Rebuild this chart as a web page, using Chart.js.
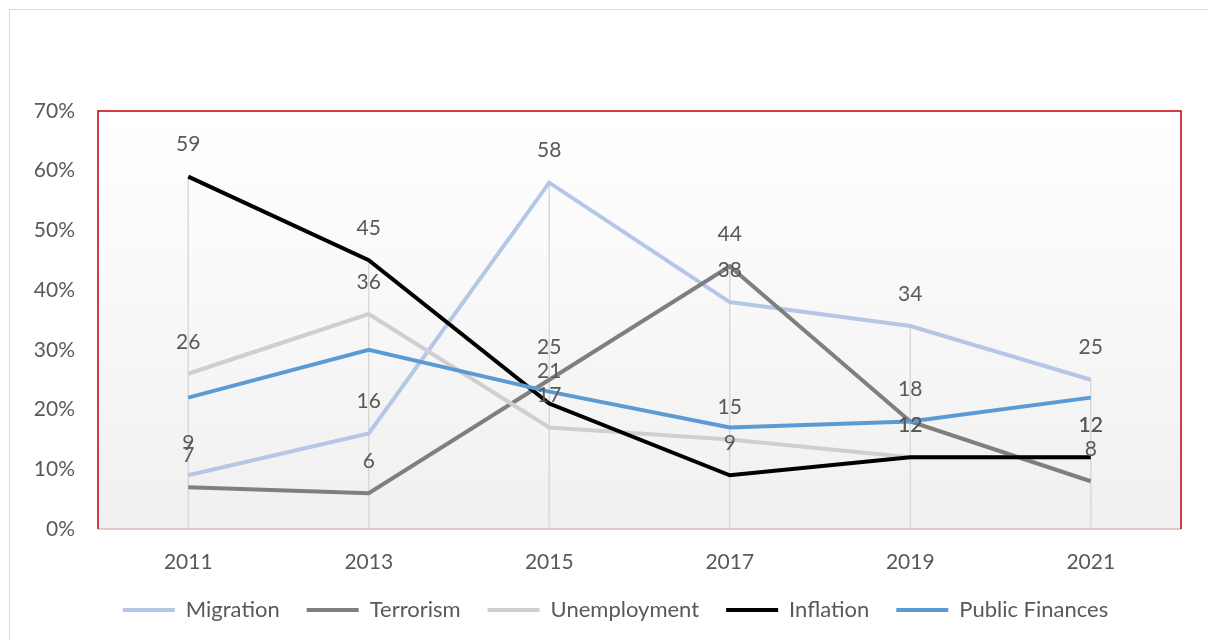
<!DOCTYPE html>
<html>
<head>
<meta charset="utf-8">
<script src="https://cdn.jsdelivr.net/npm/chart.js@4/dist/chart.umd.min.js"></script>
<style>
html, body { margin: 0; padding: 0; background: #fff; }
#wrap { position: relative; width: 1208px; height: 640px; overflow: hidden; }
#frame { position: absolute; left: 9px; top: 9px; width: 1300px; height: 700px; border: 1px solid #d9d9d9; }
canvas { position: absolute; left: 0; top: 0; }
</style>
</head>
<body>
<div id="wrap">
  <div id="frame"></div>
  <canvas id="chart" width="1208" height="640"></canvas>
</div>
<script>
// data (percent)
const years = ['2011', '2013', '2015', '2017', '2019', '2021'];
const migration = [9, 16, 58, 38, 34, 25];
const terrorism = [7, 6, 25, 44, 18, 8];
const unemployment = [26, 36, 17, 15, 12, 12];
const inflation = [59, 45, 21, 9, 12, 12];
const publicFinances = [22, 30, 23, 17, 18, 22];
const yMax = 70;
const yStep = 10;

const font = 'Lato, "Noto Sans", sans-serif';
const textCol = '#595959';

// plot area look: gradient fill, drop lines, red frame, value labels
const plotDeco = {
  id: 'plotDeco',
  beforeDatasetsDraw(chart) {
    const { ctx, chartArea: a, scales } = chart;
    ctx.save();
    let g = ctx.createLinearGradient(0, a.top, 0, a.bottom);
    g.addColorStop(0, '#ffffff');
    g.addColorStop(1, '#f0f0f0');
    ctx.fillStyle = g;
    ctx.fillRect(a.left, a.top, a.right - a.left, a.bottom - a.top);

    // drop lines from the highest point of each year down to the axis
    ctx.strokeStyle = '#d9d9d9';
    ctx.lineWidth = 1.5;
    years.forEach((y, i) => {
      let top = Math.max(...chart.data.datasets.map(d => d.data[i]));
      let x = scales.x.getPixelForValue(i);
      ctx.beginPath();
      ctx.moveTo(x, scales.y.getPixelForValue(top));
      ctx.lineTo(x, a.bottom);
      ctx.stroke();
    });
    ctx.restore();
  },
  afterDatasetsDraw(chart) {
    const { ctx, chartArea: a } = chart;
    ctx.save();
    ctx.font = '21px ' + font;
    ctx.fillStyle = textCol;
    ctx.textAlign = 'center';
    ctx.textBaseline = 'middle';
    chart.data.datasets.forEach((ds, di) => {
      if (!ds.showLabels) return;
      chart.getDatasetMeta(di).data.forEach((pt, i) => {
        ctx.fillText(ds.data[i], pt.x, pt.y - 32);
      });
    });

    ctx.strokeStyle = '#dcb8b8';
    ctx.lineWidth = 1.5;
    ctx.beginPath();
    ctx.moveTo(a.left, a.bottom);
    ctx.lineTo(a.right, a.bottom);
    ctx.stroke();
    ctx.strokeStyle = '#c00000';
    ctx.beginPath();
    ctx.moveTo(a.left, a.bottom);
    ctx.lineTo(a.left, a.top);
    ctx.lineTo(a.right, a.top);
    ctx.lineTo(a.right, a.bottom);
    ctx.stroke();
    ctx.restore();
  }
};

// later series sit on top, like in the original
function line(label, data, color, order, showLabels) {
  return {
    label: label,
    data: data,
    borderColor: color,
    backgroundColor: color,
    borderWidth: 4,
    pointRadius: 0,
    tension: 0,
    order: order,
    showLabels: showLabels
  };
}

new Chart(document.getElementById('chart'), {
  type: 'line',
  data: {
    labels: years,
    datasets: [
      line('Migration', migration, '#b4c7e7', 5, true),
      line('Terrorism', terrorism, '#7f7f7f', 4, true),
      line('Unemployment', unemployment, '#d0cece', 3, true),
      line('Inflation', inflation, '#000000', 2, true),
      line('Public Finances', publicFinances, '#5b9bd5', 1, false)
    ]
  },
  options: {
    responsive: false,
    animation: false,
    layout: { padding: { top: 111, right: 0, left: 23, bottom: 9 } },
    plugins: {
      tooltip: { enabled: false },
      legend: {
        position: 'bottom',
        reverse: true,
        labels: {
          usePointStyle: true,
          pointStyle: 'line',
          pointStyleWidth: 52,
          padding: 27,
          color: textCol,
          font: { family: font, size: 22 }
        }
      }
    },
    scales: {
      x: {
        offset: true,
        grid: { display: false, drawTicks: false },
        border: { display: false },
        ticks: { color: textCol, font: { family: font, size: 21 }, padding: 21 },
        afterFit(s) { s.height = 43; }
      },
      y: {
        min: 0,
        max: yMax,
        grid: { display: false, drawTicks: false },
        border: { display: false },
        ticks: {
          stepSize: yStep,
          color: textCol,
          font: { family: font, size: 21 },
          padding: 23,
          callback: v => v + '%'
        },
        afterFit(s) { s.width = 75; }
      },
      // empty strip on the right so the plot ends where the original does
      yr: {
        position: 'right',
        grid: { display: false, drawTicks: false },
        border: { display: false },
        ticks: { display: false },
        afterFit(s) { s.width = 27; }
      }
    }
  },
  plugins: [plotDeco]
});
</script>
</body>
</html>
